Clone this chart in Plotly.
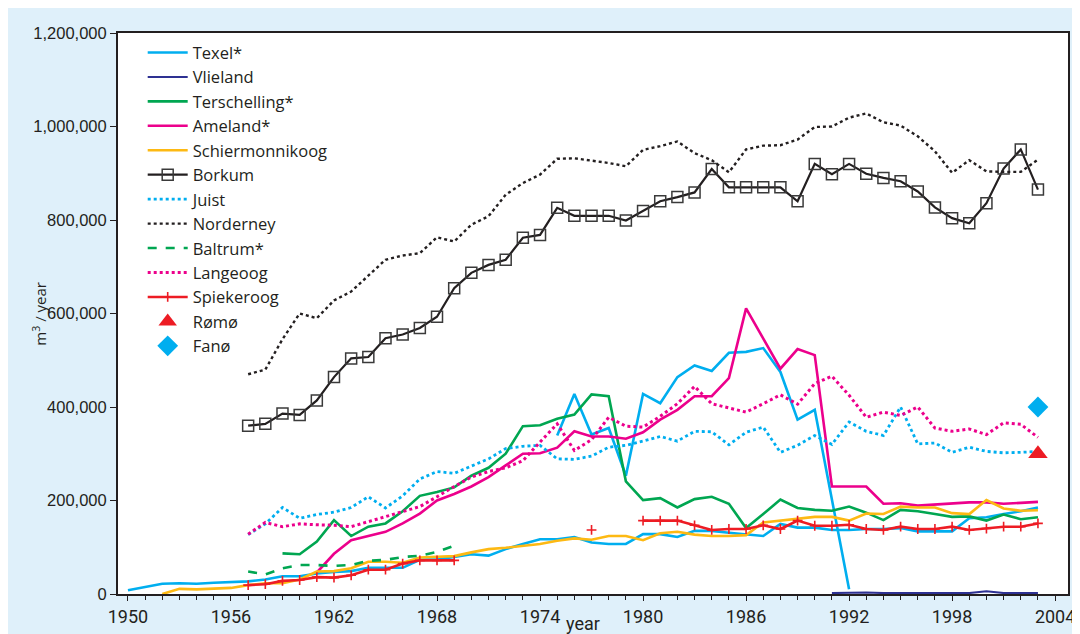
import plotly.graph_objects as go

# sediment volumes per island, m3 / year
texel_years = list(range(1950, 2004))
texel = [8000, 15000, 22000, 23000, 22000, 24000, 25000, 27000, 31000, 38000,
         38000, 44000, 47000, 49000, 56000, 56000, 56000, 73000, 74000, 79000,
         85000, 82000, 96000, 107000, 117000, 117000, 122000, 110000, 107000, 107000,
         128000, 128000, 122000, 135000, 135000, 131000, 128000, 124000, 150000, 142000,
         142000, 137000, 137000, 139000, 139000, 141000, 134000, 134000, 134000, 162000,
         164000, 171000, 177000, 185000]
texel_b_years = [1975, 1976, 1977, 1978, 1979, 1980, 1981, 1982, 1983, 1984,
                 1985, 1986, 1987, 1988, 1989, 1990, 1992]
texel_b = [339000, 428000, 341000, 355000, 253000, 428000, 408000, 464000, 489000, 477000,
           516000, 518000, 526000, 475000, 373000, 394000, 10000]
vlieland_years = list(range(1991, 2004))
vlieland = [2000, 3000, 3000, 2000, 2000, 3000, 3000, 3000, 2000, 6000, 2000, 2000, 2000]
terschelling_years = list(range(1959, 2004))
terschelling = [87000, 85000, 112000, 158000, 124000, 144000, 151000, 177000, 210000, 218000,
                228000, 253000, 270000, 300000, 359000, 361000, 375000, 384000, 427000, 423000,
                241000, 201000, 205000, 185000, 203000, 208000, 193000, 141000, 171000, 202000,
                184000, 180000, 178000, 187000, 174000, 158000, 180000, 177000, 171000, 165000,
                166000, 157000, 170000, 160000, 164000]
ameland_years = list(range(1961, 2004))
ameland = [46000, 86000, 115000, 124000, 133000, 151000, 172000, 200000, 214000, 230000,
           250000, 275000, 300000, 301000, 313000, 348000, 337000, 337000, 332000, 346000,
           373000, 394000, 423000, 423000, 462000, 611000, 547000, 482000, 524000, 511000,
           230000, 230000, 230000, 193000, 194000, 189000, 191000, 193000, 196000, 196000,
           193000, 195000, 197000]
schier_years = list(range(1952, 2004))
schier = [0, 11000, 10000, 11000, 13000, 19000, 23000, 23000, 31000, 48000,
          49000, 55000, 69000, 69000, 67000, 78000, 79000, 81000, 89000, 96000,
          99000, 103000, 107000, 114000, 119000, 116000, 124000, 124000, 115000, 130000,
          133000, 127000, 124000, 124000, 126000, 153000, 157000, 162000, 165000, 165000,
          157000, 172000, 171000, 187000, 185000, 185000, 173000, 171000, 201000, 183000,
          178000, 179000]
east_years = list(range(1957, 2004))
borkum = [360000, 364000, 386000, 383000, 414000, 464000, 504000, 507000, 547000, 555000,
          569000, 593000, 654000, 687000, 704000, 715000, 762000, 768000, 826000, 809000,
          809000, 809000, 799000, 819000, 840000, 849000, 859000, 909000, 870000, 870000,
          870000, 870000, 840000, 920000, 898000, 920000, 899000, 890000, 883000, 861000,
          827000, 804000, 793000, 836000, 910000, 951000, 865000]
juist = [127000, 150000, 185000, 162000, 170000, 175000, 185000, 208000, 184000, 210000,
         246000, 262000, 258000, 273000, 289000, 311000, 316000, 318000, 289000, 288000,
         295000, 314000, 318000, 327000, 337000, 327000, 348000, 347000, 319000, 346000,
         357000, 303000, 318000, 339000, 320000, 368000, 348000, 339000, 400000, 321000,
         323000, 303000, 314000, 305000, 302000, 303000, 305000]
norderney = [470000, 480000, 545000, 600000, 590000, 628000, 647000, 682000, 715000, 724000,
             729000, 763000, 754000, 790000, 808000, 854000, 879000, 897000, 931000, 932000,
             927000, 922000, 915000, 950000, 958000, 968000, 943000, 928000, 902000, 951000,
             959000, 960000, 972000, 999000, 1000000, 1019000, 1028000, 1009000, 1002000, 979000,
             947000, 901000, 928000, 904000, 903000, 903000, 929000]
baltrum_years = list(range(1957, 1970))
baltrum = [48000, 42000, 55000, 62000, 62000, 60000, 62000, 71000, 73000, 79000,
           82000, 90000, 103000]
langeoog = [128000, 153000, 144000, 150000, 148000, 147000, 144000, 155000, 166000, 177000,
            187000, 208000, 230000, 250000, 262000, 270000, 285000, 325000, 364000, 307000,
            330000, 378000, 359000, 357000, 380000, 407000, 444000, 407000, 398000, 389000,
            407000, 426000, 406000, 450000, 466000, 425000, 378000, 389000, 382000, 400000,
            355000, 348000, 353000, 341000, 366000, 363000, 335000]
spiekeroog = [19000, 21000, 28000, 30000, 36000, 35000, 40000, 52000, 52000, 65000,
              72000, 72000, 72000, None, None, None, None, None, None, None,
              137000, None, None, 157000, 157000, 157000, 147000, 137000, 139000, 139000,
              147000, 139000, 157000, 146000, 146000, 148000, 139000, 137000, 144000, 139000,
              139000, 144000, 137000, 140000, 144000, 144000, 151000]
romo_years = [2003]
romo = [300000]
fano_years = [2003]
fano = [400000]

year_ticks = [1950, 1956, 1962, 1968, 1974, 1980, 1986, 1992, 1998, 2004]

BLUE = "#00AEEF"
NAVY = "#2E3192"
GREEN = "#00A651"
MAGENTA = "#EC008C"
YELLOW = "#FDB913"
BLACK = "#231F20"
RED = "#ED1C24"
TEXT_FONT = "Open Sans, Roboto, sans-serif"
NUM_FONT = "Liberation Sans, Arial, sans-serif"
NARROW_FONT = "Liberation Sans Narrow, Roboto, sans-serif"

fig = go.Figure()


def add_line(x, y, name, color, dash="solid", width=2.6, **kw):
    fig.add_trace(go.Scatter(x=x, y=y, name=name, mode=kw.pop("mode", "lines"),
                             line=dict(color=color, dash=dash, width=width), **kw))


add_line(texel_years, texel, "Texel*", BLUE, legendgroup="texel")
add_line(texel_b_years, texel_b, "Texel*", BLUE, legendgroup="texel", showlegend=False)
add_line(vlieland_years, vlieland, "Vlieland", NAVY, width=2)
add_line(terschelling_years, terschelling, "Terschelling*", GREEN)
add_line(ameland_years, ameland, "Ameland*", MAGENTA)
add_line(schier_years, schier, "Schiermonnikoog", YELLOW)
add_line(east_years, borkum, "Borkum", BLACK, width=2.2, mode="lines+markers",
         marker=dict(symbol="square-open", size=11, color="#3a3a3a", line=dict(width=1.5)))
add_line(east_years, juist, "Juist", BLUE, dash="dot", width=2.8)
add_line(east_years, norderney, "Norderney", BLACK, dash="dot", width=2.4)
add_line(baltrum_years, baltrum, "Baltrum*", GREEN, dash="dash", width=2.6)
add_line(east_years, langeoog, "Langeoog", MAGENTA, dash="dot", width=3.0)
add_line(east_years, spiekeroog, "Spiekeroog", RED, width=2.6, mode="lines+markers",
         marker=dict(symbol="cross-thin-open", size=7, color=RED, line=dict(width=1.6, color=RED)))
fig.add_trace(go.Scatter(x=romo_years, y=romo, name="Rømø", mode="markers",
                         marker=dict(symbol="triangle-up", size=17, color=RED)))
fig.add_trace(go.Scatter(x=fano_years, y=fano, name="Fanø", mode="markers",
                         marker=dict(symbol="diamond", size=16, color=BLUE)))

fig.add_annotation(text="year", xref="paper", yref="paper", x=0.489, y=-0.052,
                   showarrow=False, yanchor="middle",
                   font=dict(family=NARROW_FONT, size=18, color=BLACK))
fig.add_annotation(text="m<sup>3</sup> / year", xref="paper", yref="paper", x=-0.083, y=0.5,
                   textangle=-90, showarrow=False, xanchor="center", yanchor="middle",
                   font=dict(family=TEXT_FONT, size=15, color=BLACK))

fig.update_layout(
    width=1080, height=634,
    margin=dict(l=110, r=20, t=25, b=48),
    paper_bgcolor="#DFF0FA",
    plot_bgcolor="white",
    font=dict(family=TEXT_FONT, size=16, color=BLACK),
    showlegend=True,
    legend=dict(x=0.026, y=0.996, xanchor="left", yanchor="top", bgcolor="rgba(0,0,0,0)",
                font=dict(size=16.5), itemwidth=40, tracegroupgap=0),
    xaxis=dict(range=[1949.42, 2004.75], tickvals=year_ticks, showgrid=False, zeroline=False,
               showline=True, linecolor=BLACK, linewidth=2, mirror=True,
               ticks="outside", ticklen=5, tickcolor=BLACK,
               minor=dict(dtick=1, ticks="outside", ticklen=4, tickcolor=BLACK),
               tickfont=dict(family=NARROW_FONT, size=18)),
    yaxis=dict(range=[0, 1200000], dtick=200000, tickformat=",d", showgrid=False,
               zeroline=False, showline=True, linecolor=BLACK, linewidth=2, mirror=True,
               ticks="outside", ticklen=6, tickcolor=BLACK,
               tickfont=dict(family=NUM_FONT, size=16.5)),
)

fig.write_html("out.html")
